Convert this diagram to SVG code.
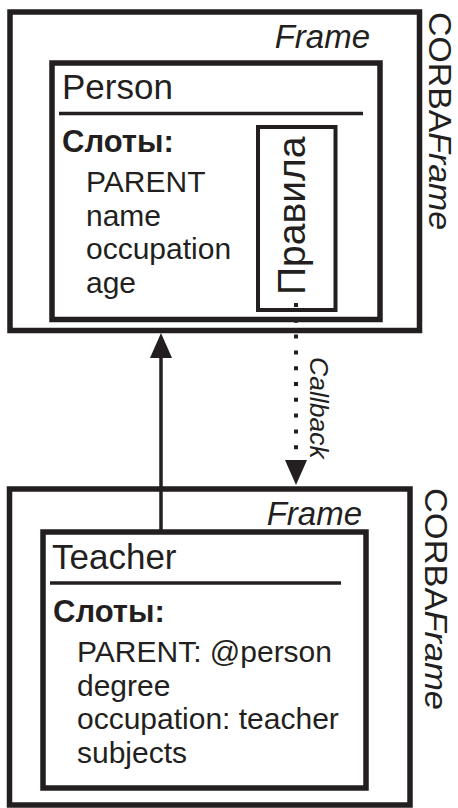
<svg xmlns="http://www.w3.org/2000/svg" width="458" height="808" viewBox="0 0 458 808">
  <style>
    .frame { fill: none; stroke: #231f20; stroke-width: 5.5; }
    .box { fill: none; stroke: #231f20; stroke-width: 5.5; }
    .sep { stroke: #231f20; stroke-width: 3.5; }
    .t { font-family: "Liberation Sans", Arial, sans-serif; fill: #231f20; }
    .title { font-size: 35px; }
    .slots { font-size: 31px; font-weight: bold; }
    .item { font-size: 30px; }
    .fr { font-size: 33px; font-style: italic; }
    .corba { font-size: 31px; }
    .solid { stroke: #231f20; stroke-width: 3.5; fill: none; }
    .dotted { stroke: #231f20; stroke-width: 4; fill: none; stroke-dasharray: 4 11.8; }
  </style>
  <defs>
    <marker id="head" markerUnits="userSpaceOnUse" viewBox="0 0 25 22" refX="0" refY="11" markerWidth="25" markerHeight="22" orient="auto">
      <path d="M0,0 L25,11 L0,22 Z" fill="#231f20"/>
    </marker>
  </defs>

  <g id="person-frame">
    <rect class="frame" x="10" y="12" width="409.5" height="318.5"/>
    <text class="t fr" x="370" y="48" text-anchor="end">Frame</text>
    <text class="t corba" transform="translate(429,12) rotate(90)" textLength="218" lengthAdjust="spacingAndGlyphs">CORBA<tspan font-style="italic">Frame</tspan></text>
  </g>

  <g id="person">
    <rect class="box" x="52" y="63" width="328" height="256.5"/>
    <text class="t title" x="62" y="99">Person</text>
    <line class="sep" x1="59" y1="113.5" x2="363" y2="113.5"/>
    <text class="t slots" x="62" y="152">Слоты:</text>
    <text class="t item" x="86" y="192">PARENT</text>
    <text class="t item" x="86" y="225.5">name</text>
    <text class="t item" x="86" y="259">occupation</text>
    <text class="t item" x="86" y="292.5">age</text>
  </g>

  <g id="rules">
    <rect x="258" y="127" width="77.5" height="183" fill="none" stroke="#231f20" stroke-width="4"/>
    <text class="t" font-size="39" transform="translate(305,295) rotate(-90)">Правила</text>
  </g>

  <g id="teacher-frame">
    <rect class="frame" x="9.5" y="489" width="400.5" height="316"/>
    <text class="t fr" x="362" y="525" text-anchor="end">Frame</text>
    <text class="t corba" transform="translate(425,488) rotate(90)" textLength="222" lengthAdjust="spacingAndGlyphs">CORBA<tspan font-style="italic">Frame</tspan></text>
  </g>

  <g id="teacher">
    <rect class="box" x="43" y="532" width="323" height="256"/>
    <text class="t title" x="52" y="569">Teacher</text>
    <line class="sep" x1="50" y1="583" x2="341" y2="583"/>
    <text class="t slots" x="53" y="622">Слоты:</text>
    <text class="t item" x="77" y="662">PARENT: @person</text>
    <text class="t item" x="77" y="695.5">degree</text>
    <text class="t item" x="77" y="729">occupation: teacher</text>
    <text class="t item" x="77" y="762.5">subjects</text>
  </g>

  <g id="connectors">
    <line class="solid" x1="161" y1="530" x2="161" y2="358" marker-end="url(#head)"/>
    <line class="dotted" x1="296" y1="303" x2="296" y2="460" marker-end="url(#head)"/>
    <text class="t" font-size="26.5" font-style="italic" transform="translate(310,357) rotate(90)">Callback</text>
  </g>
</svg>
